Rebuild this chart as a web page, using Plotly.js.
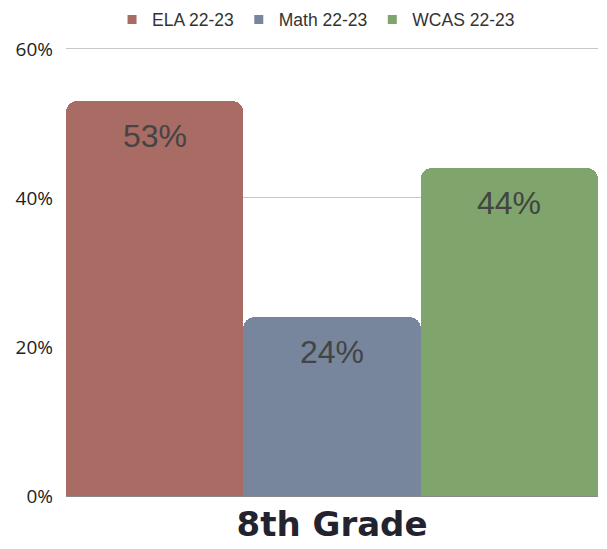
<!DOCTYPE html>
<html>
<head>
<meta charset="utf-8">
<script src="https://cdn.plot.ly/plotly-3.0.1.min.js"></script>
<style>html,body{margin:0;padding:0;background:#fff;}#chart{width:607px;height:549px;}</style>
</head>
<body>
<div id="chart"></div>
<script>
const categories = ["8th Grade"];
const seriesNames = ["ELA 22-23", "Math 22-23", "WCAS 22-23"];
const seriesValues = [[53], [24], [44]];
const seriesColors = ["#a96c65", "#77869c", "#7fa56c"];
const yTickVals = [0, 20, 40, 60];
const yTickText = ["0%", "20%", "40%", "60%"];

const traces = seriesNames.map((name, i) => ({
  type: "bar",
  name: name,
  x: categories,
  y: seriesValues[i],
  showlegend: false,
  marker: { color: seriesColors[i], cornerradius: 11, line: { width: 0 } },
  hoverinfo: "skip"
}));

// legend-only entries with small square markers
seriesNames.forEach((name, i) => {
  traces.push({
    type: "scatter", mode: "markers", name: name,
    x: [null], y: [null],
    marker: { symbol: "square", size: 9, color: seriesColors[i] },
    showlegend: true, hoverinfo: "skip"
  });
});

const n = seriesNames.length;
const annotations = [];
seriesValues.forEach((vals, i) => {
  vals.forEach((v, j) => {
    annotations.push({
      xref: "x", yref: "y",
      x: j + (i - (n - 1) / 2) / n,
      y: v,
      yanchor: "middle",
      yshift: -35,
      text: v + "%",
      showarrow: false,
      font: { family: "Liberation Sans, Arial, sans-serif", size: 32, color: "#444444" }
    });
  });
});

const layout = {
  width: 607, height: 549,
  margin: { l: 66, r: 9, t: 46, b: 53 },
  paper_bgcolor: "#ffffff", plot_bgcolor: "#ffffff",
  barmode: "group", bargap: 0, bargroupgap: 0,
  showlegend: true,
  legend: {
    orientation: "h", x: 0.47, xanchor: "center", xref: "paper",
    yref: "container", y: 0.997, yanchor: "top",
    font: { family: "Liberation Sans, Arial, sans-serif", size: 17.5, color: "#333333" },
    itemwidth: 20, traceorder: "normal"
  },
  xaxis: {
    type: "category",
    showgrid: false, zeroline: false, showline: false,
    ticks: "", ticklabelstandoff: 5,
    tickfont: { family: "DejaVu Sans, sans-serif", size: 34, color: "#22232f", weight: 700 }
  },
  yaxis: {
    range: [0, 60.4],
    tickvals: yTickVals, ticktext: yTickText,
    showgrid: true, gridcolor: "#c8c8c8", gridwidth: 1,
    zeroline: true, zerolinecolor: "#8a8a8a", zerolinewidth: 1.5,
    showline: false, ticks: "", ticklabelstandoff: 12,
    tickfont: { family: "Open Sans, sans-serif", size: 19, color: "#222222" }
  },
  annotations: annotations
};

Plotly.newPlot("chart", traces, layout, { displayModeBar: false, staticPlot: true });
</script>
</body>
</html>
